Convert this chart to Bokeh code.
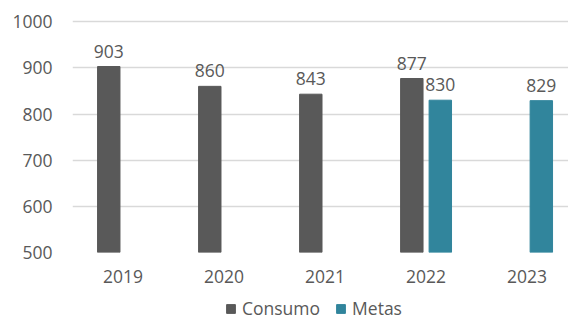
from bokeh.plotting import figure
from bokeh.layouts import column
from bokeh.models import ColumnDataSource, FixedTicker, Legend, LegendItem, Range1d
from bokeh.core.properties import value
from bokeh.embed import file_html
from bokeh.resources import INLINE

years = ["2019", "2020", "2021", "2022", "2023"]
consumo = [903, 860, 843, 877, None]
metas = [None, None, None, 830, 829]
y_ticks = [500, 600, 700, 800, 900, 1000]

GRAY = "#595959"
TEAL = "#31859C"
FONT = "Open Sans"
FS = "17.5px"

p = figure(width=568, height=293, output_backend="svg", toolbar_location=None,
           x_range=Range1d(-0.5, 4.41), y_range=Range1d(500, 1020),
           min_border_left=72, min_border_right=0, min_border_top=12, min_border_bottom=41)
p.outline_line_color = None
p.background_fill_color = "white"
p.border_fill_color = "white"

off = 0.141
w = 0.222
cx = [i - off for i, v in enumerate(consumo) if v is not None]
cy = [v for v in consumo if v is not None]
mx = [i + off for i, v in enumerate(metas) if v is not None]
my = [v for v in metas if v is not None]
src_c = ColumnDataSource(dict(x=cx, top=cy, lbl=[str(v) for v in cy]))
src_m = ColumnDataSource(dict(x=mx, top=my, lbl=[str(v) for v in my]))

p.vbar(x="x", top="top", bottom=500, width=w, source=src_c, fill_color=GRAY, line_color=GRAY)
p.vbar(x="x", top="top", bottom=500, width=w, source=src_m, fill_color=TEAL, line_color=TEAL)

for s in (src_c, src_m):
    p.text(x="x", y="top", text="lbl", source=s, text_align="center", text_baseline="bottom",
           y_offset=-9, text_font=value(FONT), text_font_size=FS, text_color=GRAY)

p.xaxis.ticker = FixedTicker(ticks=list(range(len(years))))
p.xaxis.major_label_overrides = {i: y for i, y in enumerate(years)}
p.yaxis.ticker = FixedTicker(ticks=y_ticks)
for ax in (p.xaxis, p.yaxis):
    ax.axis_line_color = None
    ax.major_tick_line_color = None
    ax.minor_tick_line_color = None
    ax.major_tick_out = 0
    ax.major_tick_in = 0
    ax.minor_tick_out = 0
    ax.major_label_text_font = FONT
    ax.major_label_text_font_size = FS
    ax.major_label_text_color = GRAY
p.xaxis.major_label_standoff = 17
p.yaxis.major_label_standoff = 20

p.xgrid.grid_line_color = None
p.ygrid.grid_line_color = "#D9D9D9"
p.ygrid.grid_line_width = 1.5
p.ygrid.ticker = FixedTicker(ticks=y_ticks)

# legend strip: same series, hidden renderers, only the legend entries show
lf = figure(width=568, height=27, output_backend="svg", toolbar_location=None,
            x_range=Range1d(100, 101), y_range=Range1d(0, 1),
            x_axis_location=None, y_axis_location=None,
            min_border_left=0, min_border_right=0, min_border_top=0, min_border_bottom=0)
lf.outline_line_color = None
lf.xgrid.visible = False
lf.ygrid.visible = False
lc = lf.vbar(x="x", top="top", bottom=500, width=w, source=src_c, fill_color=GRAY, line_color=GRAY)
lm = lf.vbar(x="x", top="top", bottom=500, width=w, source=src_m, fill_color=TEAL, line_color=TEAL)
lc.visible = False
lm.visible = False

legend = Legend(items=[LegendItem(label="Consumo", renderers=[lc]),
                       LegendItem(label="Metas", renderers=[lm])],
                orientation="horizontal", location=(153, 0),
                glyph_width=11, glyph_height=11, label_standoff=6, spacing=15,
                label_text_font=FONT, label_text_font_size=FS, label_text_color=GRAY,
                border_line_color=None, background_fill_alpha=0, padding=0, margin=0)
lf.add_layout(legend)

open("out.html", "w").write(file_html(column(p, lf, spacing=0), INLINE))
